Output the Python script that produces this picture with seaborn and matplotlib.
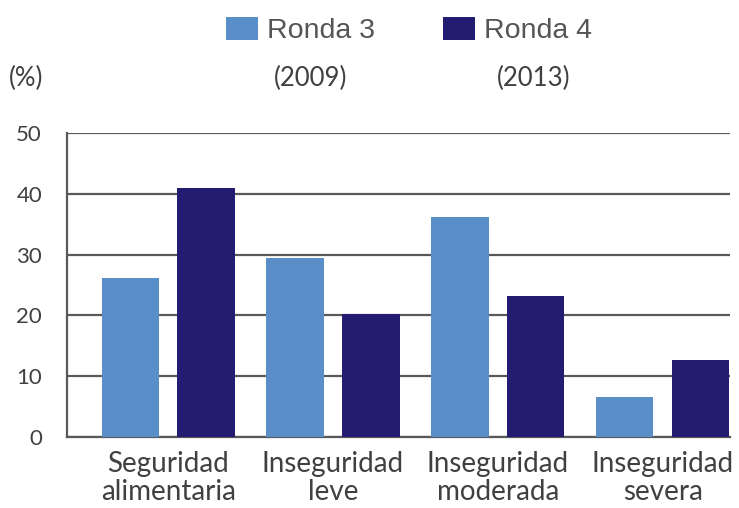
import matplotlib
matplotlib.use('Agg')
import matplotlib.pyplot as plt
import pandas as pd
import seaborn as sns

# Values (%)
categories = ['Seguridad\nalimentaria', 'Inseguridad\nleve', 'Inseguridad\nmoderada', 'Inseguridad\nsevera']
rounds = ['Ronda 3', 'Ronda 4']
years = ['(2009)', '(2013)']
ronda3 = [26.2, 29.5, 36.2, 6.6]
ronda4 = [41.0, 20.2, 23.2, 12.7]
yticks = [0, 10, 20, 30, 40, 50]

colors = ['#5A8EC8', '#231C70']
grid_color = '#595959'
text_color = '#404040'

df = pd.DataFrame({
    'categoria': categories * 2,
    'ronda': [rounds[0]] * 4 + [rounds[1]] * 4,
    'valor': ronda3 + ronda4,
})

sns.set_theme(style='white')
plt.rcParams['font.family'] = ['Lato', 'DejaVu Sans']

fig = plt.figure(figsize=(7.39, 5.08), dpi=100)
ax = fig.add_axes([0.0907, 0.1398, 0.8973, 0.5982])

sns.barplot(data=df, x='categoria', y='valor', hue='ronda', palette=colors,
            width=0.92, gap=0.24, saturation=1, linewidth=0, ax=ax, zorder=3)

ax.set_ylim(0, 50)
ax.set_xlim(-0.614, 3.41)
ax.set_yticks(yticks)
ax.yaxis.grid(True, color=grid_color, linewidth=1.6, zorder=0)
ax.set_axisbelow(True)
ax.set_xlabel('')
ax.set_ylabel('')

for side in ['top', 'right']:
    ax.spines[side].set_visible(False)
for side in ['left', 'bottom']:
    ax.spines[side].set_color(grid_color)
    ax.spines[side].set_linewidth(1.6)

ax.tick_params(axis='y', length=0, pad=18, labelsize=16, labelcolor=text_color)
ax.tick_params(axis='x', length=0, pad=10, labelsize=20, labelcolor=text_color)
for lbl in ax.get_xticklabels():
    lbl.set_linespacing(1.1)

# legend at the top, with the years underneath
sns.move_legend(ax, 'upper left', bbox_to_anchor=(0.3058, 0.9665),
                bbox_transform=fig.transFigure, ncol=2, frameon=False, title=None,
                handlelength=1.12, handleheight=0.88, handletextpad=0.32,
                columnspacing=2.4, borderpad=0, borderaxespad=0,
                prop={'family': ['Liberation Sans', 'DejaVu Sans'], 'size': 20.5})
for txt in ax.get_legend().get_texts():
    txt.set_color('#555555')

fig.text(311 / 739, 1 - 78 / 508, years[0], ha='center', va='center',
         fontsize=18.5, color=text_color)
fig.text(534 / 739, 1 - 78 / 508, years[1], ha='center', va='center',
         fontsize=18.5, color=text_color)
fig.text(9 / 739, 1 - 78 / 508, '(%)', ha='left', va='center',
         fontsize=18.5, color=text_color)

fig.savefig('out.png', dpi=100)
plt.close(fig)
